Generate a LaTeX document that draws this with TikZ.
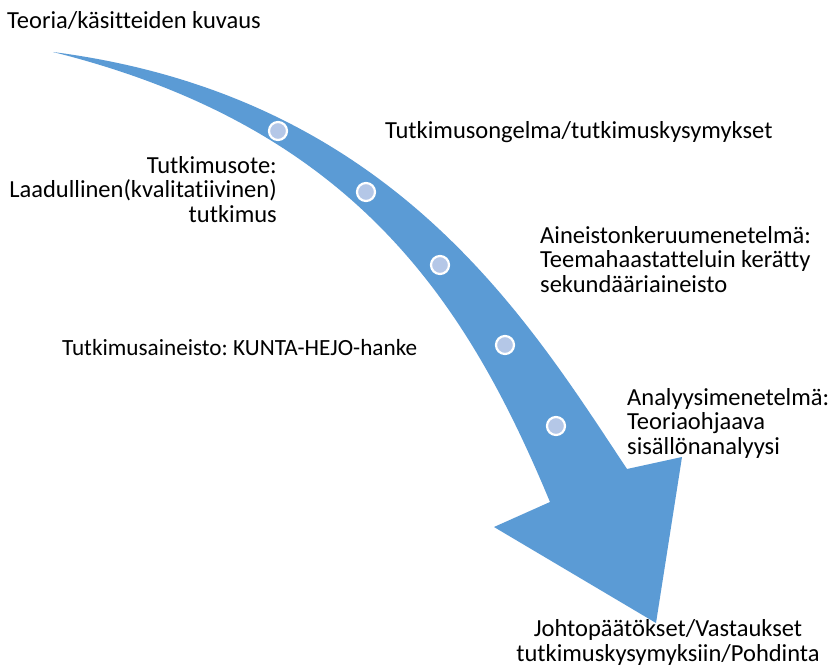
\documentclass[tikz,border=0pt]{standalone}
\usepackage{fontspec}
\setmainfont{Carlito}[Ligatures=NoCommon]
\definecolor{arrowblue}{HTML}{5B9BD5}
\definecolor{dotfill}{HTML}{B4C7E7}
\frenchspacing
\begin{document}
\begin{tikzpicture}[x=1pt,y=-1pt,
  lbl/.style={inner sep=0pt, font=\fontsize{24.5}{24.5}\selectfont, text=black},
  dot/.style={circle, fill=dotfill, draw=white, line width=2.2pt, minimum size=18pt, inner sep=0pt}]
\useasboundingbox[fill=white] (0,0) rectangle (828,669);
% arrow
\fill[arrowblue] (53,52) .. controls (393,96) and (528,320) .. (627,469)
  -- (682,457) -- (656,623) -- (494,527) -- (550,502)
  .. controls (466,300) and (353,127) .. (53,52) -- cycle;
% dots
\node[dot] (d1) at (278,131) {};
\node[dot] (d2) at (366,192) {};
\node[dot] (d3) at (440,265) {};
\node[dot] (d4) at (505,345) {};
\node[dot] (d5) at (556,426) {};
% labels
\node[lbl, anchor=base west] (t0) at (7,29) {Teoria/käsitteiden kuvaus};
\node[lbl, anchor=base west] (t1) at (385,139) {Tutkimusongelma/tutkimuskysymykset};
\node[lbl, anchor=base east, align=right] (t2) at (277,222) {Tutkimusote:\\Laadullinen(kvalitatiivinen)\\tutkimus};
\node[lbl, anchor=base west, align=left] (t3) at (540,292) {Aineistonkeruumenetelmä:\\Teemahaastatteluin kerätty\\sekundääriaineisto};
\node[lbl, anchor=base west, font=\fontsize{23.2}{24.5}\selectfont] (t4) at (62,355) {Tutkimusaineisto: KUNTA-HEJO-hanke};
\node[lbl, anchor=base west, align=left] (t5) at (627,454) {Analyysimenetelmä:\\Teoriaohjaava\\sisällönanalyysi};
\node[lbl, anchor=base, align=center] (t6) at (668,661) {Johtopäätökset/Vastaukset\\tutkimuskysymyksiin/Pohdinta};
\end{tikzpicture}
\end{document}
